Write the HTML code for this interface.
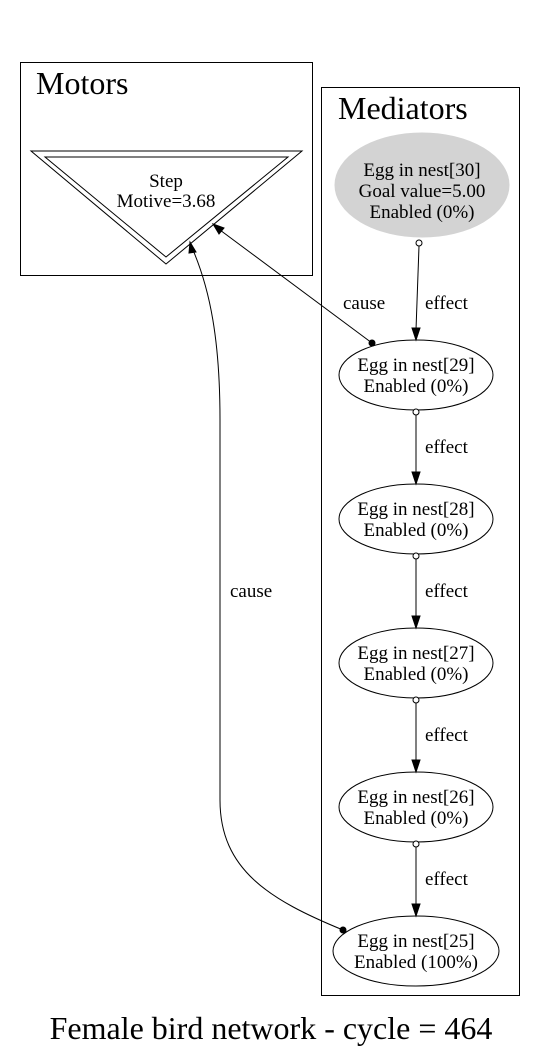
<!DOCTYPE html>
<html><head><style>body{margin:0;background:#fff}svg{display:block}</style></head><body>
<svg width="537" height="1059" viewBox="0 0 537 1059" xmlns="http://www.w3.org/2000/svg" font-family="Liberation Serif, serif">
<rect x="0" y="0" width="537" height="1059" fill="#fff"/>
<rect x="20.5" y="62.5" width="292" height="213" fill="none" stroke="#000"/>
<rect x="321.5" y="87.5" width="198" height="908" fill="none" stroke="#000"/>
<text x="36" y="94" font-size="32">Motors</text>
<text x="338" y="119" font-size="32">Mediators</text>
<polygon points="31,151 302,151 166,264" fill="none" stroke="#000"/>
<polygon points="45,157 288,157 166,257" fill="none" stroke="#000"/>
<text x="166" y="187" font-size="19" text-anchor="middle">Step</text>
<text x="166" y="207" font-size="19" text-anchor="middle">Motive=3.68</text>
<ellipse cx="422" cy="185" rx="87" ry="52" fill="#d3d3d3" stroke="#d3d3d3"/>
<g font-size="19" text-anchor="middle">
<text x="422" y="176">Egg in nest[30]</text>
<text x="422" y="197">Goal value=5.00</text>
<text x="422" y="218">Enabled (0%)</text>
</g>
<g fill="none" stroke="#000">
<ellipse cx="416" cy="375" rx="77" ry="35"/>
<ellipse cx="416" cy="519" rx="77" ry="35"/>
<ellipse cx="416" cy="663" rx="77" ry="35"/>
<ellipse cx="416" cy="807" rx="77" ry="35"/>
<ellipse cx="416" cy="951" rx="83" ry="35"/>
</g>
<g font-size="19" text-anchor="middle">
<text x="416" y="371">Egg in nest[29]</text><text x="416" y="392">Enabled (0%)</text>
<text x="416" y="515">Egg in nest[28]</text><text x="416" y="536">Enabled (0%)</text>
<text x="416" y="659">Egg in nest[27]</text><text x="416" y="680">Enabled (0%)</text>
<text x="416" y="803">Egg in nest[26]</text><text x="416" y="824">Enabled (0%)</text>
<text x="416" y="947">Egg in nest[25]</text><text x="416" y="968">Enabled (100%)</text>
</g>
<g stroke="#000" fill="#000">
<line x1="419" y1="246" x2="416" y2="330"/>
<polygon points="412,328 420,328 416,340"/>
<circle cx="419" cy="243" r="3" fill="#fff"/>
<line x1="416" y1="414" x2="416" y2="473"/><polygon points="412,472 420,472 416,484"/><circle cx="416" cy="412" r="3" fill="#fff"/>
<line x1="416" y1="558" x2="416" y2="617"/><polygon points="412,616 420,616 416,628"/><circle cx="416" cy="556" r="3" fill="#fff"/>
<line x1="416" y1="702" x2="416" y2="761"/><polygon points="412,760 420,760 416,772"/><circle cx="416" cy="700" r="3" fill="#fff"/>
<line x1="416" y1="846" x2="416" y2="905"/><polygon points="412,904 420,904 416,916"/><circle cx="416" cy="844" r="3" fill="#fff"/>
<line x1="372" y1="343" x2="220" y2="230"/>
<polygon points="213,224 224,228 219,234"/>
<circle cx="372" cy="343" r="3"/>
<path d="M343,930 C270,900 220,870 220,800 L220,420 C220,340 210,290 193,250" fill="none"/>
<polygon points="190,242 196,252 189,253"/>
<circle cx="343" cy="930" r="3"/>
</g>
<g font-size="19">
<text x="343" y="309">cause</text>
<text x="425" y="309">effect</text>
<text x="425" y="453">effect</text>
<text x="425" y="597">effect</text>
<text x="425" y="741">effect</text>
<text x="425" y="885">effect</text>
<text x="230" y="597">cause</text>
</g>
<text x="271" y="1039" font-size="32" text-anchor="middle">Female bird network - cycle = 464</text>
</svg>
</body></html>
